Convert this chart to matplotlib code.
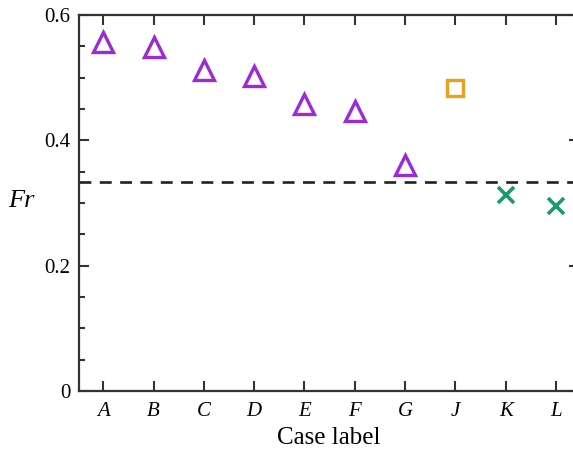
import matplotlib
matplotlib.use("Agg")
import matplotlib.pyplot as plt
from matplotlib.ticker import MultipleLocator

plt.rcParams['font.family'] = ['Liberation Serif', 'DejaVu Serif']

# data
labels = ["A", "B", "C", "D", "E", "F", "G", "J", "K", "L"]
fr_triangle = [0.557, 0.549, 0.512, 0.503, 0.458, 0.447, 0.360]
fr_square = [0.483]
fr_cross = [0.312, 0.295]
fr_critical = 0.334
yticks = [0, 0.2, 0.4, 0.6]
ytick_labels = ["0", "0.2", "0.4", "0.6"]

tri_idx = list(range(0, 7))
sq_idx = [7]
x_idx = [8, 9]

purple = "#9B2BD4"
orange = "#E8A020"
green = "#1B9A70"
axcol = "#333333"

fig = plt.figure(figsize=(5.73, 4.51), dpi=100)
ax = fig.add_axes([0.138, 0.133, 0.872, 0.834])

ax.plot(tri_idx, fr_triangle, linestyle="none", marker="^", markersize=14,
        markerfacecolor="none", markeredgecolor=purple, markeredgewidth=2.4)
ax.plot(sq_idx, fr_square, linestyle="none", marker="s", markersize=11,
        markerfacecolor="none", markeredgecolor=orange, markeredgewidth=2.4)
ax.plot(x_idx, fr_cross, linestyle="none", marker="x", markersize=11,
        markeredgecolor=green, markeredgewidth=2.6)
ax.axhline(fr_critical, color="#222222", linestyle=(0, (4.5, 3.2)), linewidth=1.9)

ax.set_xlim(-0.48, 9.45)
ax.set_ylim(0, 0.6)
ax.set_xticks(range(len(labels)))
ax.set_xticklabels(labels, fontstyle="italic")
ax.set_yticks(yticks)
ax.set_yticklabels(ytick_labels)
ax.yaxis.set_minor_locator(MultipleLocator(0.05))

ax.tick_params(axis="both", which="major", direction="in", length=7, width=1.5,
               color=axcol, labelsize=15, top=True, right=True)
ax.tick_params(axis="y", which="minor", direction="in", length=4, width=1.5,
               color=axcol, right=True)
ax.tick_params(axis="x", which="major", pad=8)
ax.tick_params(axis="y", which="major", pad=6)

for sp in ax.spines.values():
    sp.set_linewidth(1.6)
    sp.set_color(axcol)

ax.set_xlabel("Case label", fontsize=18, labelpad=4)
ax.set_ylabel("Fr", fontsize=19, fontstyle="italic", rotation=0, va="center")
ax.yaxis.set_label_coords(-0.115, 0.505)

fig.savefig("out.png", dpi=100)
